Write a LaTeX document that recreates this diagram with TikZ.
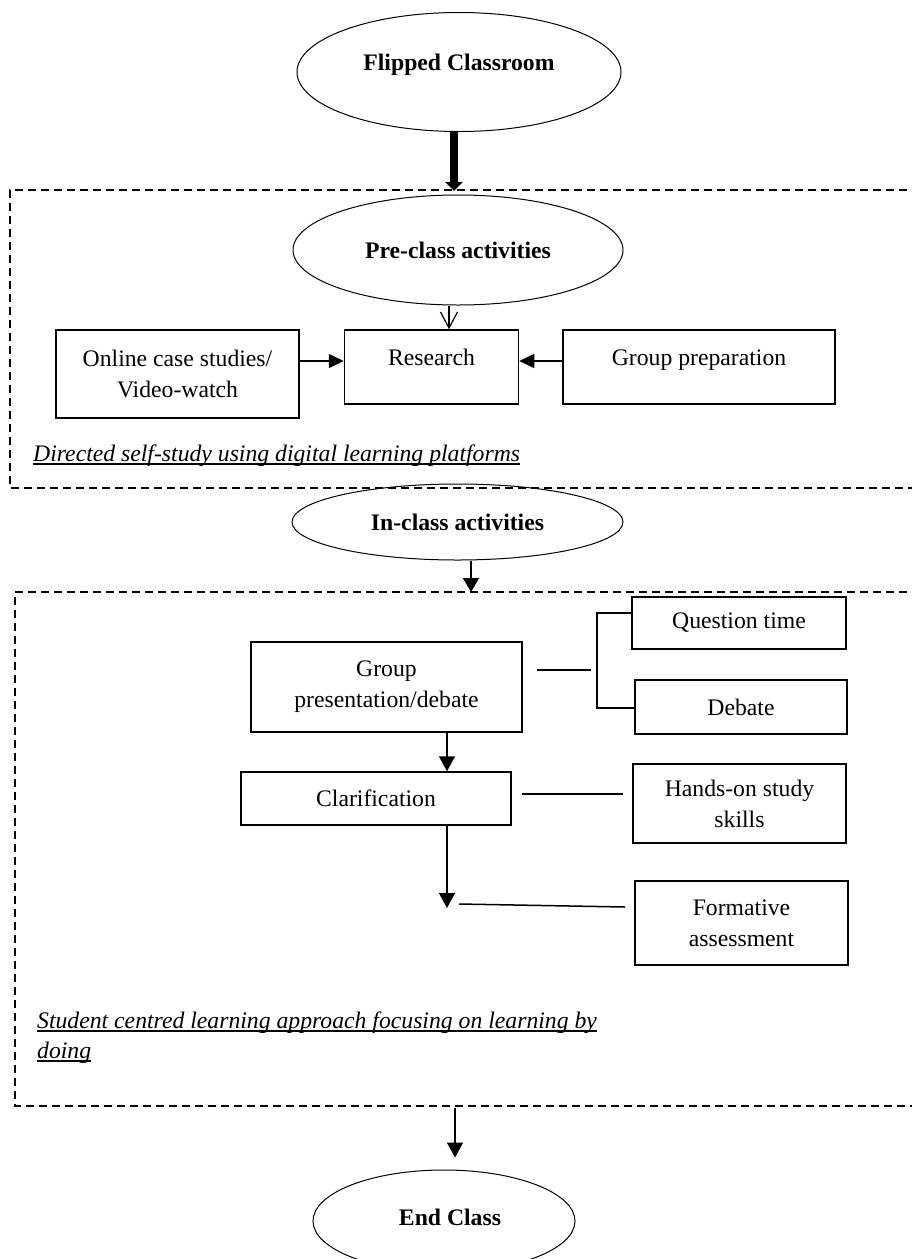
\documentclass[tikz,border=0pt]{standalone}
\usepackage{fontspec}
\setmainfont{Liberation Serif}
\usetikzlibrary{shapes.geometric,arrows.meta}
\begin{document}
\begin{tikzpicture}[x=1pt,y=-1pt,
  every node/.style={font=\fontsize{23.7}{31}\selectfont, inner sep=0pt},
  oval/.style={draw, ellipse, line width=1pt, font=\fontsize{23.7}{31}\selectfont\bfseries},
  box/.style={draw, rectangle, line width=1.5pt, align=center},
  dashbox/.style={line width=1.5pt, dash pattern=on 8pt off 5pt},
  conn/.style={line width=1.5pt},
  arr/.style={conn, -{Triangle[length=15pt,width=16pt]}},
  note/.style={font=\fontsize{23.7}{31}\selectfont\itshape, anchor=base west},
  uline/.style={line width=1.4pt}
]
\clip (0,0) rectangle (912,1259);

% ---- top ----
\node[oval, minimum width=324pt, minimum height=119pt, text height=16pt, text depth=20pt] (fc) at (459,72) {Flipped Classroom};
\coordinate (t1) at (454,191);
\draw[line width=8pt, -{Triangle[length=9pt,width=17pt]}] (fc.south -| t1) -- (t1);

% ---- pre-class block ----
\draw[dashbox] (920,190) -- (10,190) -- (10,488) -- (920,488);
\node[oval, minimum width=330pt, minimum height=110pt] (pre) at (458,250) {Pre-class activities};
\node[box, minimum width=174pt, minimum height=74pt, text height=16pt, text depth=20pt] (res) at (431.5,367) {Research};
\node[box, minimum width=243pt, minimum height=88pt] (onl) at (177.5,374) {Online case studies/\\Video-watch};
\node[box, minimum width=272pt, minimum height=74pt, text height=16pt, text depth=20pt] (gp) at (699,367) {Group preparation};
\coordinate (ax) at (449,0);
\coordinate (ay) at (0,361);
\draw[line width=1.2pt, -{Straight Barb[length=16pt,width=17pt]}] (pre.south -| ax) -- (res.north -| ax);
\draw[conn, -{Triangle[length=15pt,width=14pt]}] (onl.east |- ay) -- (res.west |- ay);
\draw[conn, -{Triangle[length=15pt,width=14pt]}] (gp.west |- ay) -- (res.east |- ay);
\node[note] (n1) at (33,461) {Directed self-study using digital learning platforms};
\draw[uline] ([yshift=-3pt]n1.base west) -- ([yshift=-3pt]n1.base east);

% ---- in-class ----
\node[oval, minimum width=331pt, minimum height=76pt] (inc) at (457.5,522) {In-class activities};
\coordinate (t2) at (471,592);
\draw[arr, -{Triangle[length=14pt,width=16pt]}] (inc.south -| t2) -- (t2);
\draw[dashbox] (920,592) -- (15,592) -- (15,1106) -- (920,1106);

\node[box, minimum width=271pt, minimum height=90pt] (gpd) at (386.5,687) {Group\\presentation/debate};
\node[box, minimum width=214pt, minimum height=52pt] (qt) at (739,623) {Question time};
\node[box, minimum width=212pt, minimum height=54pt] (deb) at (741,707) {Debate};
\node[box, minimum width=270pt, minimum height=53pt] (cla) at (376,798.5) {Clarification};
\node[box, minimum width=213pt, minimum height=79pt] (hos) at (739.5,803.5) {Hands-on study\\skills};
\node[box, minimum width=213pt, minimum height=84pt] (fa) at (741.5,923) {Formative\\assessment};

\coordinate (s1) at (537,670);
\coordinate (s2) at (591,670);
\coordinate (bt) at (597,613);
\coordinate (bb) at (597,708);
\draw[conn] (s1) -- (s2);
\draw[conn] (qt.west |- bt) -- (bt) -- (bb) -- (deb.west |- bb);

\coordinate (vx) at (447,0);
\coordinate (tip) at (447,908);
\draw[arr] (gpd.south -| vx) -- (cla.north -| vx);
\draw[arr] (cla.south -| vx) -- (tip);

\coordinate (h1) at (522,794);
\coordinate (h2) at (623,794);
\draw[conn] (h1) -- (h2);
\coordinate (f1) at (459,904);
\coordinate (f2) at (625,907);
\draw[conn] (f1) -- (f2);

\node[note] (n2) at (37,1028) {Student centred learning approach focusing on learning by};
\node[note] (n3) at (37,1058) {doing};
\draw[uline] ([yshift=-3pt]n2.base west) -- ([yshift=-3pt]n2.base east);
\draw[uline] ([yshift=-3pt]n3.base west) -- ([yshift=-3pt]n3.base east);

% ---- end ----
\node[oval, minimum width=262pt, minimum height=102pt, text height=17pt, text depth=9pt] (endc) at (444,1221) {\hspace*{12pt}End Class};
\coordinate (t3) at (455,1108);
\draw[arr, shorten >=12pt] (t3) -- (endc.north -| t3);
\end{tikzpicture}
\end{document}
